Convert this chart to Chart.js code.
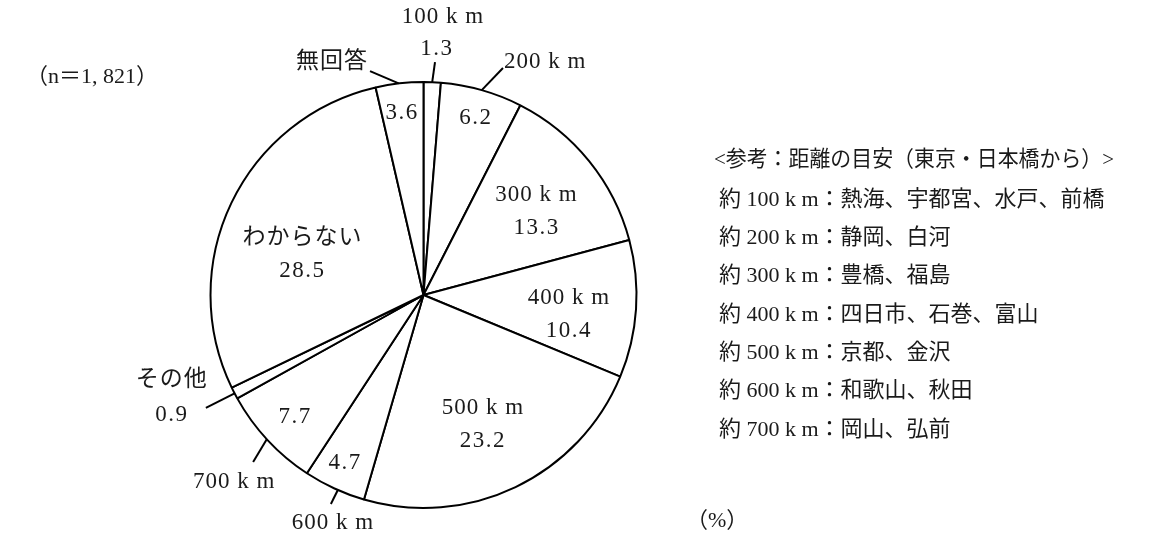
<!DOCTYPE html>
<html>
<head>
<meta charset="utf-8">
<script src="https://cdn.jsdelivr.net/npm/chart.js@4.4.0/dist/chart.umd.min.js"></script>
<style>
html,body{margin:0;padding:0;background:#fff;}
#wrap{width:1149px;height:535px;position:relative;}
</style>
</head>
<body>
<div id="wrap"><canvas id="c" width="1149" height="535"></canvas></div>
<script>
// ---- data ----
const categories = ['100 k m','200 k m','300 k m','400 k m','500 k m','600 k m','700 k m','その他','わからない','無回答'];
const values = [1.3, 6.2, 13.3, 10.4, 23.2, 4.7, 7.7, 0.9, 28.5, 3.6];
const sampleNote = '（n＝1, 821）';
const unitNote = '（%）';
const refTitle = '<参考：距離の目安（東京・日本橋から）>';
const refLines = [
  '約 100 k m：熱海、宇都宮、水戸、前橋',
  '約 200 k m：静岡、白河',
  '約 300 k m：豊橋、福島',
  '約 400 k m：四日市、石巻、富山',
  '約 500 k m：京都、金沢',
  '約 600 k m：和歌山、秋田',
  '約 700 k m：岡山、弘前'
];

// ---- label placement (styles only) ----
const FONT = "23px 'Liberation Serif', 'Noto Sans CJK JP', serif";
const REF_FONT = "22px 'Liberation Serif', 'Noto Sans CJK JP', serif";
const placement = [
  {leader:{a0:0, r1:1.095, a1:0.48}, name:{atLead:true, dx:8, dy:-45}, val:{atLead:true, dx:2, dy:-13}},
  {leader:{a0:0, r1:1.129, a1:3.43}, name:{atLead:true, dx:1, dy:-6, align:'left'}, val:{r:0.867, dAng:0.6}},
  {name:{r:0.66, dAng:2.5, dy:-16.5}, val:{r:0.66, dAng:2.5, dy:16.5}},
  {name:{r:0.689, dAng:3.8, dy:-16.5}, val:{r:0.689, dAng:3.8, dy:16.5}},
  {name:{r:0.67, dAng:1, dy:-16.5}, val:{r:0.67, dAng:1, dy:16.5}},
  {leader:{a0:-1, r1:1.073, a1:-0.8}, name:{atLead:true, dx:2, dy:19}, val:{r:0.87, dAng:0.35}},
  {leader:{a0:0.3, r1:1.12, a1:-1.5}, name:{atLead:true, dx:-19, dy:20}, val:{r:0.832, dAng:-0.6}},
  {leader:{a0:-0.1, r1:1.151, a1:0}, name:{atLead:true, dx:-34, dy:-28}, val:{atLead:true, dx:-34, dy:7}},
  {name:{r:0.60, dAng:-7, dy:-16.5}, val:{r:0.60, dAng:-7, dy:16.5}},
  {leader:{a0:-0.2, r1:1.081, a1:-6.94}, name:{atLead:true, dx:-2, dy:-9, align:'right'}, val:{r:0.86, dAng:-0.2}}
];

const fmt = v => v.toFixed(1);

const labelPlugin = {
  id: 'pieLabels',
  afterDraw(chart) {
    const ctx = chart.ctx;
    const meta = chart.getDatasetMeta(0);
    ctx.save();
    ctx.fillStyle = '#1a1a1a';
    ctx.strokeStyle = '#000';
    ctx.lineWidth = 2;
    ctx.font = FONT;
    ctx.textBaseline = 'middle';
    meta.data.forEach((arc, i) => {
      const p = arc.getProps(['startAngle','endAngle','x','y','outerRadius'], true);
      const pl = placement[i];
      const mid = (p.startAngle + p.endAngle) / 2;
      const pt = (ratio, dAng) => {
        const a = mid + (dAng || 0) * Math.PI / 180;
        return [p.x + Math.cos(a) * p.outerRadius * ratio, p.y + Math.sin(a) * p.outerRadius * ratio];
      };
      let end = null;
      if (pl.leader) {
        const [x0, y0] = pt(1, pl.leader.a0);
        end = pt(pl.leader.r1, pl.leader.a1);
        ctx.beginPath(); ctx.moveTo(x0, y0); ctx.lineTo(end[0], end[1]); ctx.stroke();
      }
      const put = (spec, text, spacing) => {
        let x, y;
        if (spec.atLead) { x = end[0] + spec.dx; y = end[1] + spec.dy; }
        else { [x, y] = pt(spec.r, spec.dAng); y += (spec.dy || 0); }
        ctx.textAlign = spec.align || 'center';
        ctx.letterSpacing = spacing;
        ctx.fillText(text, x, y);
      };
      put(pl.name, categories[i], '1px');
      put(pl.val, fmt(values[i]), '1.5px');
    });
    // notes
    ctx.letterSpacing = '0px';
    ctx.font = REF_FONT;
    ctx.textAlign = 'left';
    ctx.fillText(sampleNote, 26, 77);
    ctx.fillText(unitNote, 686, 521);
    ctx.fillText(refTitle, 714, 160, 400);
    refLines.forEach((s, k) => ctx.fillText(s, 719, 200 + k * 38.3, 386));
    ctx.restore();
  }
};

new Chart(document.getElementById('c'), {
  type: 'pie',
  data: {
    labels: categories,
    datasets: [{
      data: values,
      backgroundColor: '#ffffff',
      borderColor: '#000000',
      borderWidth: 2
    }]
  },
  options: {
    responsive: false,
    animation: false,
    radius: 213,
    layout: { padding: { left: 0, right: 302, top: 55, bottom: 0 } },
    plugins: { legend: { display: false }, tooltip: { enabled: false } }
  },
  plugins: [labelPlugin]
});
</script>
</body>
</html>
